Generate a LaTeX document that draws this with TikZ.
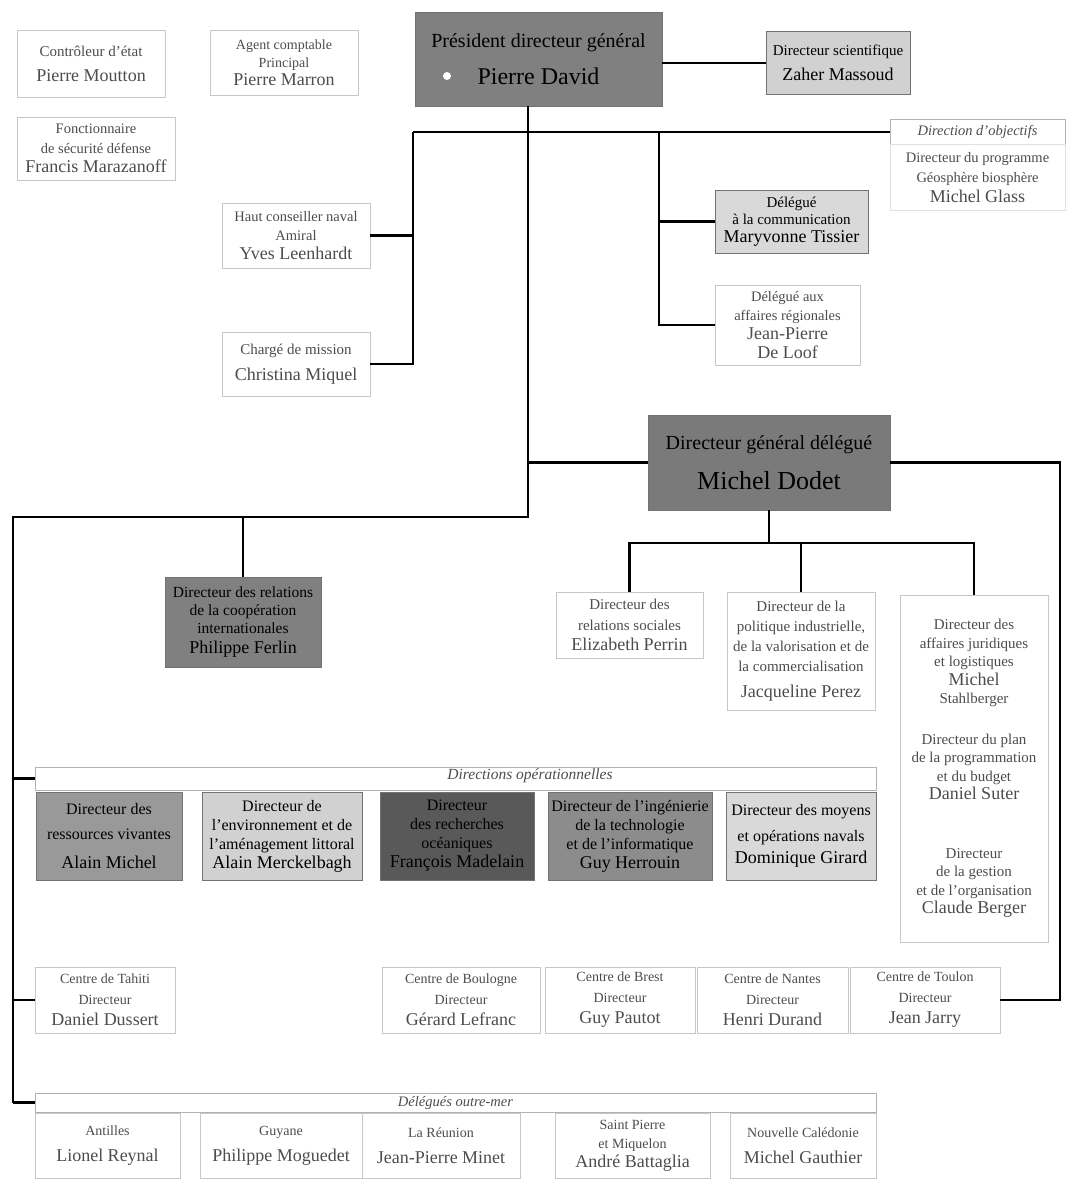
\documentclass[tikz,border=0pt]{standalone}
\usepackage{fontspec}
\setmainfont{Liberation Serif}
\newcommand\fsz[2]{\fontsize{#1}{#2}\selectfont}
\newcommand\bigname[1]{{\fontsize{18}{21}\selectfont #1}}
\begin{document}
\begin{tikzpicture}[x=1pt,y=-1pt,
  wh/.style 2 args={minimum width=#1, minimum height=#2},
  box/.style={draw=black!22, line width=0.7pt, inner sep=1pt, align=center, text=black!70, font=\fsz{15}{19}},
  gbox/.style={draw=black!55, line width=0.8pt, inner sep=1pt, align=center, text=black, font=\fsz{16}{19}},
  hdr/.style={draw=black!30, line width=0.6pt, inner sep=0pt},
  hdrtext/.style={font=\itshape\fsz{14.5}{16}, text=black!70, inner sep=1pt},
  conn/.style={line width=2.8pt, black, line join=miter}
]
\useasboundingbox (0,0) rectangle (1070,1180);

% ---- top level ----
\node[box, wh={148pt}{67pt}] (ctrl) at (91,63.5) {Contrôleur d'état\\[6pt]\bigname{Pierre Moutton}};
\node[box, wh={148pt}{65pt}, font=\fsz{14}{18}] (agent) at (284,62.5) {Agent comptable\\Principal\\\bigname{Pierre Marron}};
\node[box, wh={158pt}{63pt}, font=\fsz{14.5}{19.5}] (fonc) at (96,148.5) {Fonctionnaire\\de sécurité défense\\\bigname{Francis Marazanoff}};

\node[gbox, wh={247pt}{94pt}, fill=black!50] (pdg) at (538.5,59) {{\fsz{20}{24}Président directeur général}\\[15pt]{\fsz{24}{28}Pierre David}};
\fill[white] (447,76) circle (4);
\node[gbox, wh={144pt}{63pt}, fill=black!18, font=\fsz{15}{19}] (sci) at (838,63) {Directeur scientifique\\[6pt]\bigname{Zaher Massoud}};

\node[hdr, wh={175pt}{25pt}] (dobj) at (977.5,132) {};
\node[hdrtext] (dobjT) at (dobj.center) {Direction d'objectifs};
\node[box, draw=black!12, wh={175pt}{66pt}, font=\fsz{14.5}{20}] (glass) at (977.5,177.5) {Directeur du programme\\Géosphère biosphère\\\bigname{Michel Glass}};

\node[box, wh={148pt}{65pt}, font=\fsz{14.5}{19}] (haut) at (296,235.5) {Haut conseiller naval\\Amiral\\\bigname{Yves Leenhardt}};
\node[box, wh={148pt}{64pt}] (charge) at (296,364) {Chargé de mission\\[7pt]\bigname{Christina Miquel}};

\node[gbox, wh={153pt}{63pt}, fill=black!15, font=\fsz{15}{17.5}] (comm) at (791.5,221.5) {Délégué\\à la communication\\\bigname{Maryvonne Tissier}};
\node[box, wh={145pt}{80pt}, font=\fsz{14.5}{19}] (region) at (787.5,325) {Délégué aux\\affaires régionales\\\bigname{Jean-Pierre}\\\bigname{De Loof}};

% ---- directeur general delegue ----
\node[gbox, wh={242pt}{95pt}, fill=black!52] (dgd) at (769,462.5) {{\fsz{20}{24}Directeur général délégué}\\[16pt]{\fsz{26}{30}Michel Dodet}};

\node[box, wh={147pt}{66pt}, font=\fsz{15}{20.5}] (rs) at (629.5,625) {Directeur des\\relations sociales\\\bigname{Elizabeth Perrin}};
\node[box, wh={148pt}{118pt}, font=\fsz{15}{20}] (pol) at (801,651) {Directeur de la\\politique industrielle,\\de la valorisation et de\\la commercialisation\\[6pt]\bigname{Jacqueline Perez}};
\node[box, wh={148pt}{347pt}, font=\fsz{15}{18.5}] (jur) at (974,768.5) {Directeur des\\affaires juridiques\\et logistiques\\\bigname{Michel}\\Stahlberger\\[22pt]Directeur du plan\\de la programmation\\et du budget\\\bigname{Daniel Suter}\\[40pt]Directeur\\de la gestion\\et de l'organisation\\\bigname{Claude Berger}};

\node[gbox, wh={156pt}{90pt}, fill=black!50, font=\fsz{15.5}{18}] (coop) at (243,622) {Directeur des relations\\de la coopération\\internationales\\[2pt]\bigname{Philippe Ferlin}};

% ---- directions operationnelles ----
\node[hdr, wh={841pt}{23pt}] (opsH) at (455.5,778.5) {};
\node[hdrtext, font=\itshape\fsz{15.5}{17}] (opsT) at (530,776) {Directions opérationnelles};
\node[gbox, wh={146pt}{88pt}, fill=black!40] (res) at (109,836) {Directeur des\\[6pt]ressources vivantes\\[10pt]\bigname{Alain Michel}};
\node[gbox, wh={160pt}{88pt}, fill=black!18] (env) at (282,836) {Directeur de\\l'environnement et de\\l'aménagement littoral\\\bigname{Alain Merckelbagh}};
\node[gbox, wh={154pt}{88pt}, fill=black!65] (oce) at (457,836) {Directeur\\des recherches\\océaniques\\\bigname{François Madelain}};
\node[gbox, wh={164pt}{88pt}, fill=black!45] (ing) at (630,836) {Directeur de l'ingénierie\\de la technologie\\et de l'informatique\\\bigname{Guy Herrouin}};
\node[gbox, wh={150pt}{88pt}, fill=black!15] (moy) at (801,836) {Directeur des moyens\\[7pt]et opérations navals\\[3pt]\bigname{Dominique Girard}};

% ---- centres ----
\node[box, wh={140pt}{66pt}, font=\fsz{14}{21}] (tahiti) at (105,1000) {Centre de Tahiti\\Directeur\\\bigname{Daniel Dussert}};
\node[box, wh={158pt}{66pt}, font=\fsz{14}{21}] (boul) at (461,1000) {Centre de Boulogne\\Directeur\\\bigname{Gérard Lefranc}};
\node[box, wh={150pt}{66pt}, font=\fsz{14}{21}] (brest) at (620,1000) {Centre de Brest\\Directeur\\\bigname{Guy Pautot}};
\node[box, wh={151pt}{66pt}, font=\fsz{14}{21}] (nantes) at (772.5,1000) {Centre de Nantes\\Directeur\\\bigname{Henri Durand}};
\node[box, wh={150pt}{66pt}, font=\fsz{14}{21}] (toulon) at (925,1000) {Centre de Toulon\\Directeur\\\bigname{Jean Jarry}};

% ---- delegues outre-mer ----
\node[hdr, wh={841pt}{19pt}] (omH) at (455.5,1102.5) {};
\node[hdrtext] (omT) at (omH.center) {Délégués outre-mer};
\node[box, wh={145pt}{65pt}, font=\fsz{14}{19}] (ant) at (107.5,1145.5) {Antilles\\[7pt]\bigname{Lionel Reynal}};
\node[box, wh={162pt}{65pt}, font=\fsz{14}{19}] (guy) at (281,1145.5) {Guyane\\[7pt]\bigname{Philippe Moguedet}};
\node[box, wh={158pt}{65pt}, font=\fsz{14}{19}] (reu) at (441,1145.5) {La Réunion\\[7pt]\bigname{Jean-Pierre Minet}};
\node[box, wh={155pt}{65pt}, font=\fsz{14}{19}] (spm) at (632.5,1145.5) {Saint Pierre\\et Miquelon\\\bigname{André Battaglia}};
\node[box, wh={146pt}{65pt}, font=\fsz{14}{19}] (nc) at (803,1145.5) {Nouvelle Calédonie\\[7pt]\bigname{Michel Gauthier}};

% ---- connectors ----
\coordinate (trunkTop) at (528,106);
\coordinate (trunkBend) at (528,517);
\coordinate (leftTop) at (13,517);
\coordinate (leftBot) at (13,1103);
\coordinate (L) at (413,132);
\coordinate (R) at (659,132);
\coordinate (db) at (769,543);
\coordinate (rightBus) at (1060,1000);

\draw[conn] (pdg.east |- sci.west) -- (sci.west);
\draw[conn] (trunkTop) -- (trunkBend) -- (leftTop) -- (leftBot);
\draw[conn] (L) -- (dobj.west);
\draw[conn] (L) |- (haut.east);
\draw[conn] (L) |- (charge.east);
\draw[conn] (R) |- (comm.west);
\draw[conn] (R) |- (region.west);
\draw[conn] (dgd.west) -- (dgd.west -| trunkTop);
\draw[conn] (dgd.east) -| (rightBus) -- (toulon.east);
\draw[conn] (dgd.south) -- (db);
\draw[conn] (rs.north) |- (db);
\draw[conn] (jur.north) |- (db);
\draw[conn] (pol.north) -- (pol.north |- db);
\draw[conn] (coop.north) -- (coop.north |- trunkBend);
\draw[conn] (opsH.west -| leftTop) -- (opsH.west);
\draw[conn] (tahiti.west -| leftTop) -- (tahiti.west);
\draw[conn] (omH.west -| leftTop) -- (omH.west);
\end{tikzpicture}
\end{document}
